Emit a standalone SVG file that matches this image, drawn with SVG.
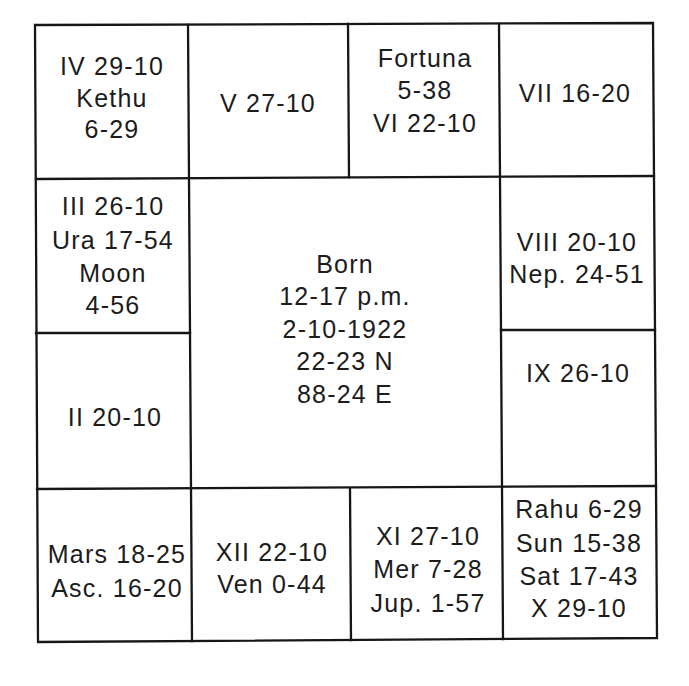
<svg xmlns="http://www.w3.org/2000/svg" width="689" height="686" viewBox="0 0 689 686">
<style>
.ln{stroke:#161616;stroke-width:2.3;fill:none;stroke-linecap:square}
text{font-family:"Liberation Sans",Arial,Helvetica,sans-serif;font-size:25px;fill:#1c1c1c;text-anchor:middle;letter-spacing:1.2px}
</style>
<rect width="689" height="686" fill="#fff"/>
<g id="grid">
<path class="ln" d="M35,25 L653,23 L657,638 L38,642 Z"/>
<path class="ln" d="M188,25 L192,641"/>
<path class="ln" d="M499,24 L503,639"/>
<path class="ln" d="M348,24 L349,177"/>
<path class="ln" d="M350,489 L351,640"/>
<path class="ln" d="M36,179 L654,176"/>
<path class="ln" d="M37,489 L656,486"/>
<path class="ln" d="M36,333 L190,333"/>
<path class="ln" d="M501,330 L655,330"/>
</g>
<g id="cell-iv"><text x="112" y="75">IV 29-10</text><text x="112" y="107">Kethu</text><text x="112" y="138">6-29</text></g>
<g id="cell-v"><text x="268" y="112">V 27-10</text></g>
<g id="cell-vi"><text x="425" y="67">Fortuna</text><text x="425" y="99">5-38</text><text x="425" y="132">VI 22-10</text></g>
<g id="cell-vii"><text x="575" y="102">VII 16-20</text></g>
<g id="cell-iii"><text x="113" y="215">III 26-10</text><text x="113" y="249">Ura 17-54</text><text x="113" y="282">Moon</text><text x="113" y="314">4-56</text></g>
<g id="cell-center"><text x="345" y="273">Born</text><text x="345" y="305">12-17 p.m.</text><text x="345" y="338">2-10-1922</text><text x="345" y="370">22-23 N</text><text x="345" y="403">88-24 E</text></g>
<g id="cell-viii"><text x="577" y="251">VIII 20-10</text><text x="577" y="283">Nep. 24-51</text></g>
<g id="cell-ii"><text x="115" y="426">II 20-10</text></g>
<g id="cell-ix"><text x="578" y="382">IX 26-10</text></g>
<g id="cell-i"><text x="117" y="563">Mars 18-25</text><text x="117" y="597">Asc. 16-20</text></g>
<g id="cell-xii"><text x="272" y="561">XII 22-10</text><text x="272" y="593">Ven 0-44</text></g>
<g id="cell-xi"><text x="428" y="545">XI 27-10</text><text x="428" y="578">Mer 7-28</text><text x="428" y="612">Jup. 1-57</text></g>
<g id="cell-x"><text x="579" y="518">Rahu 6-29</text><text x="579" y="552">Sun 15-38</text><text x="579" y="585">Sat 17-43</text><text x="579" y="617">X 29-10</text></g>
</svg>
